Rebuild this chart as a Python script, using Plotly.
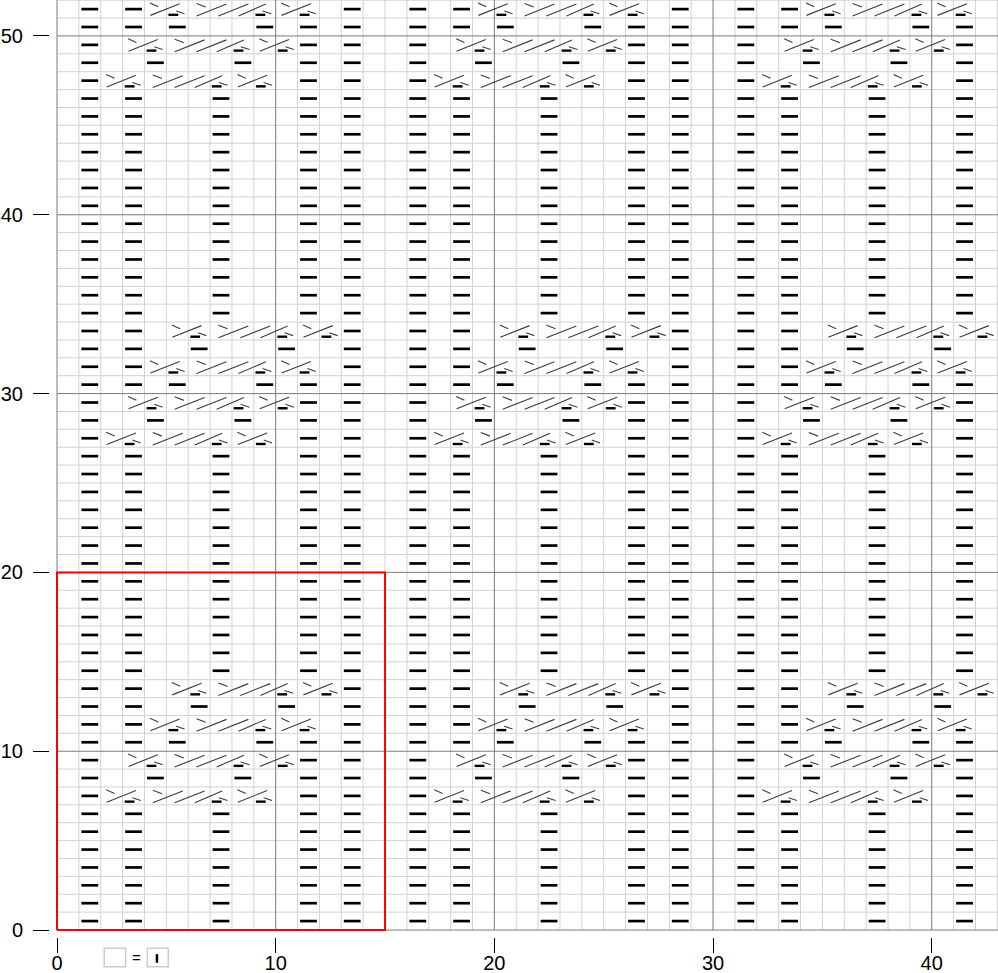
import plotly.graph_objects as go

# ---------------- data: 15-stitch x 20-row repeat ----------------
REPEAT_W = 15
REPEAT_H = 20
N_COLS = 43          # stitches shown
N_ROWS = 52          # rows shown

base_purls = [1, 3, 7, 11, 13]              # purl columns on plain rows
cable_row_purls = {                          # purl columns on cable section rows
    7: [1, 11, 13],
    8: [1, 4, 8, 11, 13],
    9: [1, 11, 13],
    10: [1, 3, 5, 9, 11, 13],
    11: [1, 3, 13],
    12: [1, 3, 6, 10, 13],
    13: [1, 3, 13],
}
cable_rows = [7, 9, 11, 13]                  # rows with crossing stitches
cross2_left = [2, 3, 4, 5]                   # first column of left 2-st cross
cross4_mid = [4, 5, 6, 7]                    # first column of 4-st cross
cross2_right = [8, 9, 10, 11]                # first column of right 2-st cross

x_ticks = [0, 10, 20, 30, 40]
y_ticks = [0, 10, 20, 30, 40, 50]
legend_text = "="

# ---------------- geometry / style ----------------
XMIN, XMAX = -0.32, 43.03
YMIN, YMAX = -0.39, 52.01
W, H = 998, 973
ML, MB = 50, 36

def px(x):
    return (x - XMIN) / (XMAX - XMIN)

def py(y):
    return (y - YMIN) / (YMAX - YMIN)

# glyph templates (cell-relative)
G2_LINES = [((0.25, 0.84), (0.63, 0.63)),
            ((0.27, 0.15), (1.61, 0.80)),
            ((1.45, 0.40), (1.83, 0.24))]
G2_PURL = (1.32, 0.18)
G4_LINES = [((0.38, 0.82), (0.80, 0.62)),
            ((0.38, 0.12), (1.75, 0.78)),
            ((1.38, 0.12), (2.75, 0.78)),
            ((2.30, 0.12), (3.55, 0.78)),
            ((3.40, 0.40), (3.80, 0.24))]
G4_PURL = (3.30, 0.18)

purl_x, purl_y = [], []
spurl_x, spurl_y = [], []
gl_x, gl_y = [], []

def add_glyph(lines, purl, c, r):
    for (a, b) in lines:
        gl_x.extend([c + a[0], c + b[0], None])
        gl_y.extend([r + a[1], r + b[1], None])
    spurl_x.append(c + purl[0])
    spurl_y.append(r + purl[1])

for ry in range(0, N_ROWS, REPEAT_H):
    for rx in range(0, N_COLS, REPEAT_W):
        for row in range(REPEAT_H):
            r = ry + row
            if r >= N_ROWS:
                continue
            for c in cable_row_purls.get(row, base_purls):
                cc = rx + c
                if cc < N_COLS:
                    purl_x.append(cc + 0.5)
                    purl_y.append(r + 0.5)
        for i, row in enumerate(cable_rows):
            r = ry + row
            if r >= N_ROWS:
                continue
            add_glyph(G2_LINES, G2_PURL, rx + cross2_left[i], r)
            add_glyph(G4_LINES, G4_PURL, rx + cross4_mid[i], r)
            add_glyph(G2_LINES, G2_PURL, rx + cross2_right[i], r)

# grid lines
lg_x, lg_y, dg_x, dg_y = [], [], [], []
for x in range(0, N_COLS + 1):
    tx, ty = (dg_x, dg_y) if x % 10 == 0 else (lg_x, lg_y)
    tx.extend([x, x, None]); ty.extend([0, YMAX, None])
for y in range(0, N_ROWS + 1):
    tx, ty = (dg_x, dg_y) if y % 10 == 0 else (lg_x, lg_y)
    tx.extend([0, XMAX, None]); ty.extend([y, y, None])

fig = go.Figure()
fig.add_trace(go.Scatter(x=lg_x, y=lg_y, mode="lines",
                         line=dict(color="#d2d2d2", width=1), hoverinfo="skip"))
fig.add_trace(go.Scatter(x=dg_x, y=dg_y, mode="lines",
                         line=dict(color="#7a7a7a", width=1), hoverinfo="skip"))
fig.add_trace(go.Scatter(x=[0, REPEAT_W, REPEAT_W, 0, 0], y=[0, 0, REPEAT_H, REPEAT_H, 0],
                         mode="lines", line=dict(color="#ff0000", width=2), hoverinfo="skip"))
fig.add_trace(go.Scatter(x=gl_x, y=gl_y, mode="lines",
                         line=dict(color="#3c3c3c", width=1.1), hoverinfo="skip"))
fig.add_trace(go.Scatter(x=purl_x, y=purl_y, mode="markers",
                         marker=dict(symbol="line-ew", size=12,
                                     line=dict(color="black", width=2.7)),
                         hoverinfo="skip"))
fig.add_trace(go.Scatter(x=spurl_x, y=spurl_y, mode="markers",
                         marker=dict(symbol="line-ew", size=7,
                                     line=dict(color="black", width=2.4)),
                         hoverinfo="skip"))

# legend (blank square = knit)
ly0, ly1 = -2.05, -1.02
shapes = [
    dict(type="rect", xref="paper", yref="paper", x0=px(2.16), x1=px(3.14),
         y0=py(ly0), y1=py(ly1), line=dict(color="#cccccc", width=1.5), fillcolor="white"),
    dict(type="rect", xref="paper", yref="paper", x0=px(4.13), x1=px(5.09),
         y0=py(ly0), y1=py(ly1), line=dict(color="#cccccc", width=1.5), fillcolor="white"),
    dict(type="line", xref="paper", yref="paper", x0=px(4.57), x1=px(4.57),
         y0=py(-1.83), y1=py(-1.35), line=dict(color="black", width=2.5)),
]
annotations = [
    dict(xref="paper", yref="paper", x=px(3.64), y=py(-1.55), text=legend_text,
         showarrow=False, font=dict(family="Liberation Sans", size=15, color="black"),
         xanchor="center", yanchor="middle"),
]

tickfont = dict(family="Liberation Sans, Arial, sans-serif", size=20, color="black")
fig.update_layout(
    width=W, height=H,
    margin=dict(l=ML, r=0, t=0, b=MB, pad=0),
    paper_bgcolor="white", plot_bgcolor="white",
    showlegend=False, hovermode=False,
    shapes=shapes, annotations=annotations,
    xaxis=dict(range=[XMIN, XMAX], tickvals=x_ticks, ticks="outside", ticklen=15,
               tickcolor="black", tickwidth=1, showgrid=False, zeroline=False,
               showline=False, tickfont=tickfont, automargin=False, fixedrange=True,
               ticklabelstandoff=-7),
    yaxis=dict(range=[YMIN, YMAX], tickvals=y_ticks, ticks="outside", ticklen=16,
               tickcolor="black", tickwidth=1, showgrid=False, zeroline=False,
               showline=False, tickfont=tickfont, automargin=False, fixedrange=True,
               ticklabelstandoff=6),
)

fig.write_html("out.html", config={"displayModeBar": False, "staticPlot": True},
               post_script="document.body.style.margin='0';document.body.style.overflow='hidden';")
